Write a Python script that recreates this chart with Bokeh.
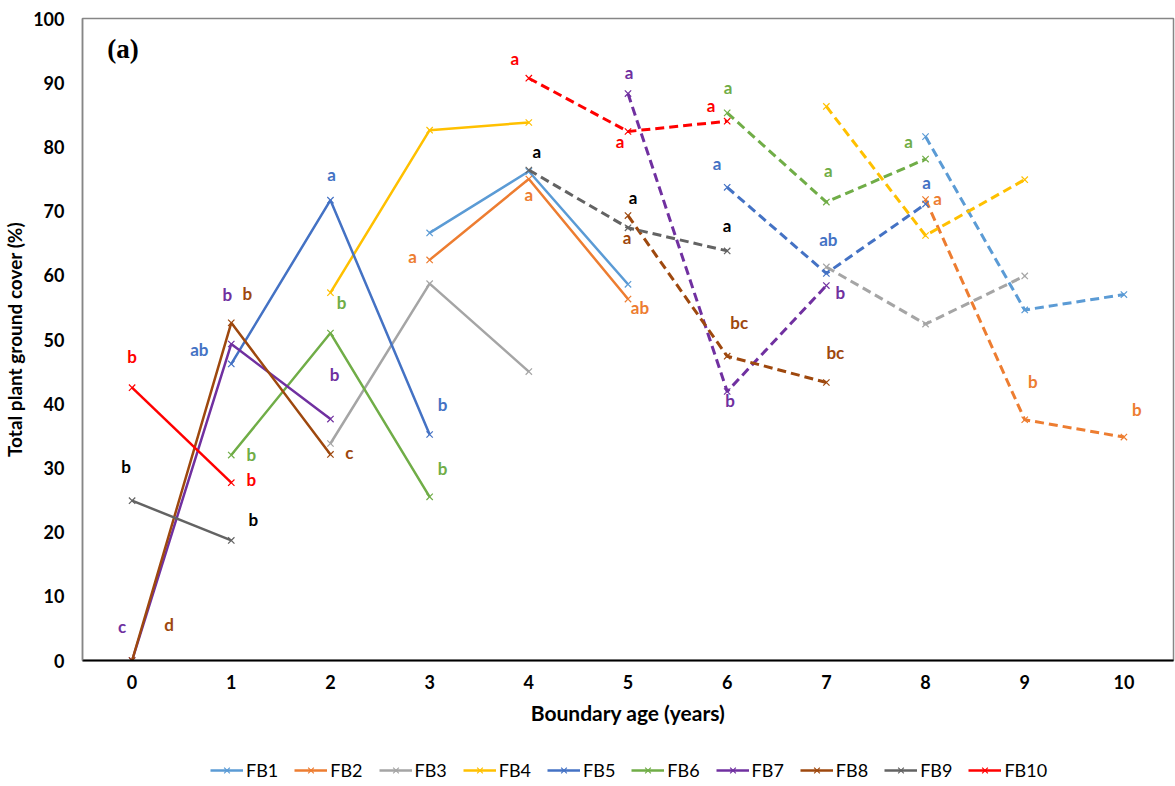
from bokeh.plotting import figure
from bokeh.layouts import column
from bokeh.models import Legend, LegendItem, Label, ColumnDataSource
from bokeh.core.properties import value
from bokeh.embed import file_html
from bokeh.resources import INLINE

# ---------------- data ----------------
series_names = ["FB1", "FB2", "FB3", "FB4", "FB5", "FB6", "FB7", "FB8", "FB9", "FB10"]
series_colors = ["#5B9BD5", "#ED7D31", "#A5A5A5", "#FFC000", "#4472C4",
                 "#70AD47", "#7030A0", "#9E480E", "#636363", "#FF0000"]
letter_colors = ["#5B9BD5", "#ED7D31", "#A5A5A5", "#FFC000", "#4472C4",
                 "#70AD47", "#7030A0", "#9E480E", "#000000", "#FF0000"]

# solid (first survey) segments
solid_age = [
    [3, 4, 5], [3, 4, 5], [2, 3, 4], [2, 3, 4], [1, 2, 3],
    [1, 2, 3], [0, 1, 2], [0, 1, 2], [0, 1], [0, 1],
]
solid_cover = [
    [66.6, 76.2, 58.6], [62.4, 75.0, 56.3], [33.8, 58.7, 45.0], [57.3, 82.6, 83.8],
    [46.2, 71.7, 35.2], [32.0, 51.0, 25.5], [0.0, 49.3, 37.6], [0.0, 52.6, 32.1],
    [24.9, 18.7], [42.5, 27.7],
]
# dashed (second survey) segments
dashed_age = [
    [8, 9, 10], [8, 9, 10], [7, 8, 9], [7, 8, 9], [6, 7, 8],
    [6, 7, 8], [5, 6, 7], [5, 6, 7], [4, 5, 6], [4, 5, 6],
]
dashed_cover = [
    [81.6, 54.6, 57.0], [71.8, 37.5, 34.8], [61.3, 52.4, 59.9], [86.3, 66.2, 74.9],
    [73.7, 60.3, 71.1], [85.3, 71.4, 78.1], [88.3, 41.9, 58.4], [69.3, 47.4, 43.3],
    [76.4, 67.4, 63.8], [90.7, 82.4, 84.0],
]
# significance letters ("" = none)
solid_letters = [
    ["", "", ""], ["a", "a", "ab"], ["", "", ""], ["", "", ""], ["ab", "a", "b"],
    ["b", "b", "b"], ["c", "b", "b"], ["d", "b", "c"], ["b", "b"], ["b", "b"],
]
dashed_letters = [
    ["", "", ""], ["a", "b", "b"], ["", "", ""], ["", "", ""], ["a", "ab", "a"],
    ["a", "a", "a"], ["a", "b", "b"], ["a", "bc", "bc"], ["a", "a", "a"], ["a", "a", "a"],
]
# letter placement relative to its point (pixels: right, up)
solid_offsets = [
    [(0, 0), (0, 0), (0, 0)], [(-17, 3), (0, -15), (12, -8)], [(0, 0), (0, 0), (0, 0)],
    [(0, 0), (0, 0), (0, 0)], [(-32, 14), (1, 26), (13, 30)], [(20, 1), (11, 31), (13, 28)],
    [(-10, 34), (-4, 49), (4, 45)], [(37, 36), (16, 29), (19, 2)], [(-6, 34), (22, 21)],
    [(0, 31), (20, 3)],
]
dashed_offsets = [
    [(0, 0), (0, 0), (0, 0)], [(12, 1), (8, 38), (13, 28)], [(0, 0), (0, 0), (0, 0)],
    [(0, 0), (0, 0), (0, 0)], [(-10, 24), (2, 34), (1, 22)], [(1, 25), (2, 32), (-17, 18)],
    [(1, 21), (3, -9), (14, -7)], [(-1, -22), (12, 34), (9, 30)], [(8, 19), (5, 30), (0, 25)],
    [(-14, 20), (-8, -10), (-16, 16)],
]
y_ticks = list(range(0, 101, 10))
x_ticks = list(range(0, 11))

FONT = "Lato"

p = figure(width=1175, height=740, x_range=(-0.5, 10.5), y_range=(0, 100),
           output_backend="svg", toolbar_location=None,
           min_border_left=81, min_border_right=2, min_border_top=18, min_border_bottom=80)
p.background_fill_color = "white"
p.border_fill_color = "white"
p.outline_line_color = "#868686"
p.outline_line_width = 1.5
p.grid.visible = False

for ax, ticks in ((p.xaxis, x_ticks), (p.yaxis, y_ticks)):
    ax.ticker = ticks
    ax.major_tick_line_color = None
    ax.minor_tick_line_color = None
    ax.major_label_text_font = FONT
    ax.major_label_text_font_style = "bold"
    ax.major_label_text_font_size = "18px"
    ax.major_label_text_color = "black"
    ax.axis_label_text_font = FONT
    ax.axis_label_text_font_style = "bold"
    ax.axis_label_text_color = "black"

p.xaxis.axis_label_text_font_size = "21px"
p.yaxis.axis_label_text_font_size = "19px"
p.xaxis.axis_line_color = "black"
p.xaxis.axis_line_width = 2
p.yaxis.axis_line_color = "#868686"
p.yaxis.axis_line_width = 1.5
p.xaxis.major_label_standoff = 8
p.yaxis.major_label_standoff = 12
p.xaxis.axis_label = "Boundary age (years)"
p.yaxis.axis_label = "Total plant ground cover (%)"
p.xaxis.axis_label_standoff = 8
p.yaxis.axis_label_standoff = 4

for i, name in enumerate(series_names):
    c = series_colors[i]
    p.line(solid_age[i], solid_cover[i], line_color=c, line_width=2.5)
    p.scatter(solid_age[i], solid_cover[i], marker="x", size=9, line_color=c, line_width=1.2)
    p.line(dashed_age[i], dashed_cover[i], line_color=c, line_width=3, line_dash="9 5")
    p.scatter(dashed_age[i], dashed_cover[i], marker="x", size=9, line_color=c, line_width=1.2)

# letters
lx, ly, lt, lc, ox, oy = [], [], [], [], [], []
for i in range(len(series_names)):
    for ages, covs, lets, offs in ((solid_age[i], solid_cover[i], solid_letters[i], solid_offsets[i]),
                                   (dashed_age[i], dashed_cover[i], dashed_letters[i], dashed_offsets[i])):
        for a, cv, t, (dx, dy) in zip(ages, covs, lets, offs):
            if t:
                lx.append(a); ly.append(cv); lt.append(t); lc.append(letter_colors[i])
                ox.append(dx); oy.append(-dy)
src = ColumnDataSource(dict(x=lx, y=ly, text=lt, color=lc, xo=ox, yo=oy))
p.text(x="x", y="y", text="text", source=src, text_color="color", x_offset="xo", y_offset="yo",
       text_font=value(FONT), text_font_style="bold", text_font_size="17px",
       text_align="center", text_baseline="middle")

p.add_layout(Label(x=-0.03, y=95.3, x_offset=-6, text="(a)", text_font="Liberation Serif",
                   text_font_style="bold", text_font_size="27px", text_align="center",
                   text_baseline="middle", text_color="black"))

# ---------------- legend strip (series drawn out of view; only the legend shows) ----------------
q = figure(width=1175, height=46, x_range=(-200, -199), y_range=(0, 1),
           output_backend="svg", toolbar_location=None,
           min_border_left=81, min_border_right=2, min_border_top=0, min_border_bottom=0)
q.axis.visible = False
q.grid.visible = False
q.outline_line_color = None
q.background_fill_color = "white"
q.border_fill_color = "white"
items = []
for i, name in enumerate(series_names):
    c = series_colors[i]
    r1 = q.line(solid_age[i], solid_cover[i], line_color=c, line_width=2.5)
    r2 = q.scatter(solid_age[i], solid_cover[i], marker="x", size=9, line_color=c, line_width=1.2)
    items.append(LegendItem(label=name, renderers=[r1, r2]))
legend = Legend(items=items, orientation="horizontal", location=(128, 5),
                glyph_width=33, glyph_height=20, label_standoff=3, spacing=16,
                label_text_font=FONT, label_text_font_size="18px", label_text_color="black",
                label_height=20, padding=0, margin=0,
                border_line_color=None, background_fill_alpha=0)
q.add_layout(legend, "center")

open("out.html", "w").write(file_html(column(p, q, spacing=0), INLINE))
